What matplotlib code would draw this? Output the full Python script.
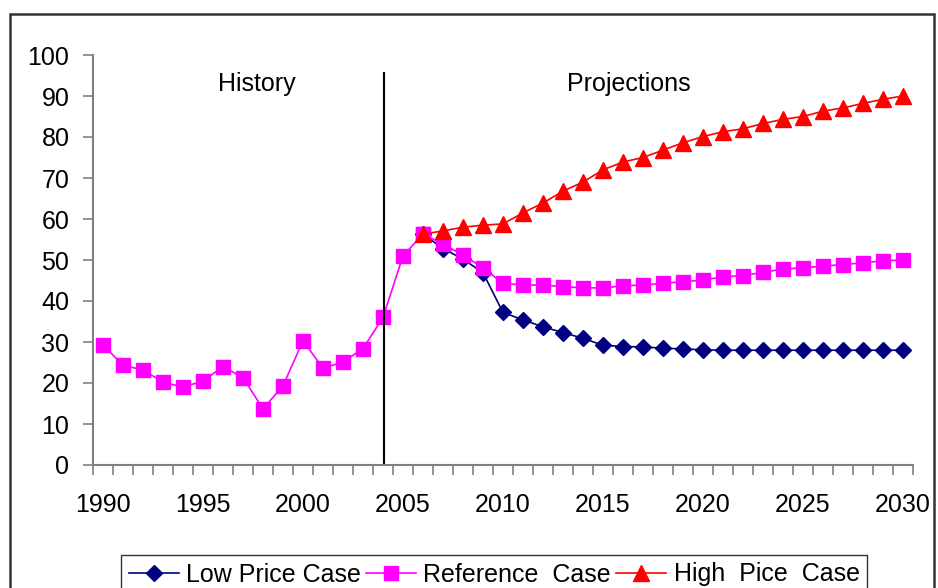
import matplotlib.pyplot as plt
from matplotlib.patches import Rectangle

plt.rcParams['font.family'] = ['Liberation Sans', 'DejaVu Sans']

# history 1990-2005, projections 2006-2030
hist_years = list(range(1990, 2007))
hist_vals = [29.3, 24.3, 23.2, 20.2, 19.0, 20.5, 24.0, 21.3, 13.7, 19.3,
             30.3, 23.6, 25.1, 28.4, 36.0, 51.0, 56.3]

proj_years = list(range(2006, 2031))
low = [56.3, 52.8, 50.2, 46.9, 37.2, 35.4, 33.7, 32.3, 30.9, 29.2,
       28.9, 28.8, 28.5, 28.3, 28.1, 28.0, 28.0, 28.0, 28.0, 28.0,
       28.0, 28.0, 28.0, 28.0, 28.0]
ref = [56.3, 53.9, 51.2, 48.1, 44.3, 43.9, 43.9, 43.5, 43.2, 43.2,
       43.7, 43.9, 44.3, 44.7, 45.1, 45.9, 46.2, 47.0, 47.8, 48.1,
       48.5, 48.9, 49.3, 49.8, 50.0]
high = [56.3, 57.1, 58.0, 58.5, 58.8, 61.5, 63.9, 66.8, 69.0, 72.0,
        73.9, 75.0, 76.8, 78.6, 80.1, 81.3, 82.0, 83.3, 84.3, 85.0,
        86.3, 87.1, 88.2, 89.2, 90.0]

fig = plt.figure(figsize=(9.38, 5.88), dpi=100)
ax = fig.add_axes([93 / 938, 1 - 465 / 588, 820 / 938, 410 / 588])

ax.plot(hist_years, hist_vals, color='#FF00FF', lw=1.2, marker='s', ms=10)
ax.plot(proj_years, low, color='#000080', lw=1.2, marker='D', ms=8, label='Low Price Case')
ax.plot(proj_years, ref, color='#FF00FF', lw=1.2, marker='s', ms=10, label='Reference  Case')
ax.plot(proj_years, high, color='#FF0000', lw=1.2, marker='^', ms=11, label='High  Pice  Case')

ax.plot([2004.05, 2004.05], [0, 95.6], color='black', lw=1.5)
ax.text(1997.7, 93, 'History', ha='center', va='center', fontsize=18)
ax.text(2016.3, 93, 'Projections', ha='center', va='center', fontsize=18)

ax.set_xlim(1989.5, 2030.5)
ax.set_ylim(0, 100)
ax.set_yticks(range(0, 101, 10))
ax.set_xticks(range(1990, 2031, 5))
ax.set_xticks([y + 0.5 for y in range(1989, 2031)], minor=True)
ax.tick_params(axis='x', which='major', length=0, pad=20, labelsize=18)
ax.tick_params(axis='x', which='minor', length=7, color='#808080', width=1.2)
ax.tick_params(axis='y', length=7, color='#808080', width=1.2, labelsize=18, pad=10)
for s in ['top', 'right']:
    ax.spines[s].set_visible(False)
for s in ['left', 'bottom']:
    ax.spines[s].set_color('#808080')
    ax.spines[s].set_linewidth(1.5)

leg = fig.legend(loc='upper left', bbox_to_anchor=(121 / 938, 1 - 555 / 588),
                 ncol=3, fontsize=18, frameon=True, fancybox=False,
                 edgecolor='black', handlelength=2.0, handletextpad=0.3,
                 columnspacing=0.2, borderpad=0.3, borderaxespad=0)
leg.get_frame().set_linewidth(1.0)

fig.patches.append(Rectangle((10 / 938, -0.1), 924 / 938, 1.1 - 14 / 588,
                             transform=fig.transFigure, fill=False,
                             edgecolor='#333333', lw=1.8))

fig.savefig('out.png', dpi=100)
